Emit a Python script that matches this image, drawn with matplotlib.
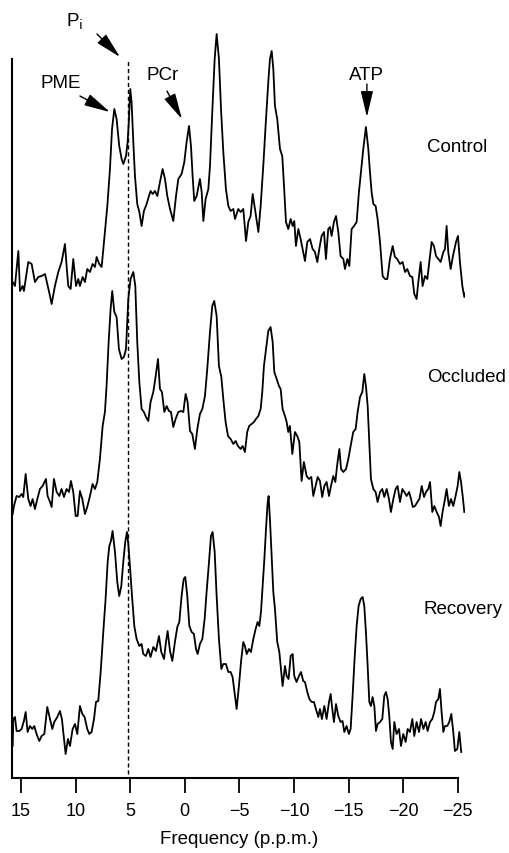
import matplotlib
matplotlib.use('Agg')
import matplotlib.pyplot as plt

plt.rcParams['font.family'] = ['Liberation Sans', 'DejaVu Sans']

# 31P spectra, intensity in arbitrary units (baseline ~0)
ctrl_ppm = [15.76, 15.55, 15.24, 15.09, 14.85, 14.73, 14.33, 14.02, 13.72, 13.41,
            13.11, 12.80, 12.65, 12.34, 12.19, 11.89, 11.58, 11.28, 10.97, 10.82,
            10.67, 10.45, 10.21, 9.96, 9.75, 9.60, 9.35, 9.14, 8.93, 8.68,
            8.44, 8.22, 8.07, 7.83, 7.61, 7.31, 7.09, 6.85, 6.66, 6.45,
            6.24, 6.00, 5.78, 5.63, 5.38, 5.23, 5.11, 4.99, 4.87, 4.71,
            4.56, 4.35, 4.16, 3.95, 3.74, 3.49, 3.28, 3.13, 2.94, 2.73,
            2.51, 2.27, 2.03, 1.81, 1.60, 1.35, 1.05, 0.80, 0.59, 0.29,
            0.04, -0.17, -0.39, -0.57, -0.72, -0.87, -1.09, -1.39, -1.55, -1.70,
            -1.91, -2.16, -2.31, -2.52, -2.74, -2.92, -3.13, -3.32, -3.53, -3.77,
            -3.99, -4.20, -4.45, -4.60, -4.90, -5.12, -5.36, -5.61, -5.82, -6.03,
            -6.22, -6.43, -6.74, -6.95, -7.19, -7.44, -7.65, -7.80, -7.96, -8.11,
            -8.26, -8.47, -8.72, -8.93, -9.09, -9.27, -9.48, -9.70, -9.88, -10.03,
            -10.18, -10.40, -10.61, -10.79, -11.01, -11.22, -11.47, -11.71, -11.92, -12.14,
            -12.32, -12.53, -12.75, -12.93, -13.14, -13.30, -13.45, -13.66, -13.85, -14.06,
            -14.27, -14.52, -14.67, -14.89, -15.07, -15.28, -15.50, -15.74, -15.95, -16.14,
            -16.35, -16.59, -16.81, -16.96, -17.11, -17.27, -17.48, -17.66, -17.88, -18.12,
            -18.33, -18.55, -18.79, -19.04, -19.25, -19.46, -19.71, -19.95, -20.17, -20.38,
            -20.62, -20.84, -21.02, -21.23, -21.39, -21.60, -21.78, -22.00, -22.21, -22.39,
            -22.61, -22.82, -23.01, -23.22, -23.43, -23.68, -23.83, -23.98, -24.13, -24.35,
            -24.56, -24.84, -25.02, -25.20, -25.42, -25.60, -25.76]
ctrl_int = [7, 3, 38, -2, 3, -2, 27, 25, 7, 12,
            13, 15, 8, -7, -15, 3, 17, 27, 45, 23,
            3, 0, 30, 3, 10, 3, 12, 7, 20, 17,
            25, 22, 32, 25, 22, 57, 83, 120, 160, 180,
            170, 143, 130, 125, 133, 147, 170, 200, 187, 147,
            113, 85, 77, 63, 78, 85, 93, 98, 95, 98,
            93, 107, 120, 110, 93, 80, 68, 93, 110, 115,
            127, 147, 163, 143, 113, 88, 93, 110, 97, 68,
            90, 100, 123, 177, 230, 255, 230, 180, 137, 100,
            83, 78, 80, 70, 80, 77, 80, 48, 67, 73,
            95, 80, 57, 83, 123, 170, 207, 230, 238, 220,
            183, 170, 140, 133, 103, 67, 60, 70, 63, 68,
            43, 60, 50, 40, 28, 47, 50, 40, 37, 27,
            40, 53, 57, 30, 60, 62, 53, 67, 73, 57,
            33, 30, 20, 30, 23, 60, 63, 67, 97, 117,
            140, 162, 140, 117, 97, 85, 83, 70, 47, 13,
            10, 10, 30, 43, 32, 30, 25, 27, 17, 20,
            13, 12, -5, -10, 7, 27, 3, 13, 10, 27,
            47, 43, 33, 30, 27, 37, 40, 63, 37, 20,
            33, 47, 53, 27, 3, -8, -2]

occ_ppm = [15.76, 15.64, 15.40, 15.15, 14.94, 14.79, 14.57, 14.33, 14.12, 13.93,
           13.72, 13.50, 13.26, 13.02, 12.71, 12.56, 12.34, 12.19, 11.98, 11.73,
           11.49, 11.28, 11.06, 10.82, 10.60, 10.42, 10.21, 9.99, 9.81, 9.60,
           9.38, 9.14, 8.93, 8.68, 8.44, 8.22, 8.01, 7.77, 7.52, 7.31,
           7.16, 6.97, 6.79, 6.64, 6.45, 6.24, 6.03, 5.78, 5.57, 5.38,
           5.17, 4.96, 4.71, 4.53, 4.35, 4.16, 3.95, 3.74, 3.55, 3.34,
           3.13, 2.88, 2.70, 2.45, 2.27, 2.09, 1.87, 1.66, 1.45, 1.26,
           1.05, 0.84, 0.59, 0.35, 0.13, -0.08, -0.26, -0.48, -0.69, -0.93,
           -1.15, -1.39, -1.61, -1.85, -2.06, -2.31, -2.52, -2.70, -2.92, -3.13,
           -3.35, -3.53, -3.74, -3.96, -4.20, -4.45, -4.66, -4.87,
           -5.12, -5.30, -5.51, -5.72, -5.90, -6.12, -6.34, -6.52, -6.74, -6.95, -7.10,
           -7.25, -7.44, -7.65, -7.86, -8.05, -8.20, -8.41, -8.63, -8.78, -8.96,
           -9.18, -9.33, -9.48, -9.63, -9.85, -10.09, -10.30, -10.49, -10.70, -10.91,
           -11.16, -11.37, -11.59, -11.77, -11.98, -12.17, -12.38, -12.59, -12.78, -12.99,
           -13.21, -13.39, -13.60, -13.79, -13.97, -14.16, -14.31, -14.52, -14.77, -14.98,
           -15.19, -15.43, -15.65, -15.83, -16.05, -16.26, -16.44, -16.59, -16.75, -16.90,
           -17.05, -17.27, -17.48, -17.66, -17.88, -18.09, -18.27, -18.49, -18.70, -18.88,
           -19.10, -19.31, -19.49, -19.71, -19.93, -20.11, -20.32, -20.54, -20.72, -20.88,
           -21.09, -21.30, -21.49, -21.70, -21.91, -22.09, -22.30, -22.46, -22.67, -22.85,
           -23.07, -23.28, -23.43, -23.61, -23.83, -23.98, -24.19, -24.38, -24.59, -24.80,
           -24.99, -25.14, -25.30, -25.45, -25.60]
occ_int = [-15, -7, 3, 2, 5, 2, 25, 0, -7, 0,
           -10, 0, 10, 13, 20, 3, -3, -8, 20, 7,
           3, 10, 2, 10, 7, 18, 7, -17, -17, 8,
           0, -15, -8, 3, 15, 10, 17, 40, 73, 87,
           113, 157, 190, 208, 187, 182, 150, 140, 142, 150,
           200, 220, 227, 213, 157, 117, 90, 87, 82, 78,
           97, 107, 120, 140, 110, 107, 87, 93, 88, 87,
           72, 80, 87, 88, 87, 105, 97, 68, 65, 50,
           70, 85, 90, 103, 130, 167, 193, 198, 183, 133,
           122, 100, 77, 63, 60, 55, 58, 53,
           50, 53, 47, 67, 73, 75, 77, 80, 83, 90, 107,
           133, 150, 168, 172, 157, 127, 120, 113, 110, 90,
           83, 77, 67, 73, 45, 67, 63, 57, 18, 37,
           23, 20, 22, 3, 13, 22, 18, 2, 13, 17,
           3, 13, 23, 17, 35, 50, 30, 27, 30, 40,
           53, 67, 70, 87, 102, 107, 125, 113, 93, 57,
           20, 10, 7, -3, 7, 10, 2, 10, 0, -13,
           0, 10, 13, -3, 10, 7, 3, 7, 0, -8,
           -7, -3, 0, 13, 2, 7, 10, 17, -13, -7,
           -13, -18, -27, -13, 0, 10, -7, 0, -7, 3,
           13, 27, 17, 3, -13]

rec_ppm = [15.76, 15.70, 15.55, 15.40, 15.15, 14.94, 14.73, 14.57, 14.39, 14.18,
           13.96, 13.78, 13.57, 13.32, 13.11, 12.86, 12.59, 12.34, 12.13, 11.95,
           11.67, 11.43, 11.25, 11.06, 10.91, 10.70, 10.51, 10.27, 10.05, 9.84,
           9.60, 9.38, 9.17, 8.93, 8.74, 8.53, 8.31, 8.13, 7.92, 7.70,
           7.46, 7.25, 7.06, 6.91, 6.76, 6.61, 6.39, 6.18, 6.00, 5.81,
           5.63, 5.45, 5.29, 5.17, 5.02, 4.83, 4.62, 4.41, 4.16, 3.95,
           3.80, 3.55, 3.34, 3.13, 2.88, 2.64, 2.36, 2.15, 1.90, 1.72,
           1.57, 1.35, 1.14, 0.90, 0.68, 0.50, 0.29, 0.10, -0.05, -0.23,
           -0.42, -0.63, -0.84, -1.03, -1.18, -1.39, -1.61, -1.82, -2.00, -2.22,
           -2.40, -2.55, -2.74, -2.92, -3.13, -3.35, -3.53, -3.77, -3.99, -4.20,
           -4.38, -4.60, -4.75, -4.96, -5.15, -5.36, -5.51, -5.67, -5.88, -6.06,
           -6.28, -6.49, -6.67, -6.83, -6.98, -7.13, -7.29, -7.44, -7.58, -7.68,
           -7.80, -7.96, -8.11, -8.26, -8.47, -8.66, -8.81, -8.96, -9.18, -9.33,
           -9.51, -9.70, -9.88, -10.03, -10.24, -10.46, -10.64, -10.85, -11.01, -11.22,
           -11.41, -11.62, -11.83, -12.01, -12.23, -12.38, -12.56, -12.78, -12.99, -13.21,
           -13.36, -13.51, -13.66, -13.85, -14.06, -14.27, -14.45, -14.61, -14.82, -15.03,
           -15.19, -15.37, -15.55, -15.74, -15.92, -16.11, -16.29, -16.44, -16.59, -16.75,
           -16.90, -17.05, -17.20, -17.36, -17.51, -17.66, -17.88, -18.09, -18.27, -18.42,
           -18.58, -18.73, -18.88, -19.04, -19.19, -19.40, -19.62, -19.80, -20.01, -20.23,
           -20.41, -20.62, -20.84, -21.02, -21.23, -21.45, -21.64, -21.85, -22.06, -22.24,
           -22.46, -22.67, -22.85, -23.01, -23.22, -23.37, -23.52, -23.68, -23.83, -24.04,
           -24.22, -24.41, -24.59, -24.74, -24.96, -25.14, -25.32]
rec_int = [-7, 20, 22, 8, 8, 10, 18, 27, 7, 13,
           10, 13, 5, -2, 3, 5, 32, 20, 10, 17,
           22, 28, 20, 0, -15, 0, -7, 10, 15, 5,
           33, 25, 22, 10, 5, 7, 20, 37, 38, 67,
           107, 140, 177, 193, 198, 208, 187, 157, 143, 153,
           177, 197, 207, 195, 173, 143, 113, 100, 93, 95,
           85, 83, 90, 82, 92, 88, 103, 87, 80, 97,
           108, 88, 78, 97, 112, 117, 143, 160, 162, 143,
           113, 107, 105, 90, 85, 95, 100, 120, 147, 177,
           203, 207, 187, 143, 100, 70, 75, 75, 67, 67,
           62, 43, 30, 53, 77, 97, 93, 85, 90, 87,
           100, 110, 117, 113, 127, 153, 180, 210, 235, 243,
           220, 183, 147, 130, 97, 87, 70, 53, 73, 63,
           60, 83, 85, 63, 57, 63, 67, 58, 57, 47,
           40, 37, 37, 30, 22, 30, 20, 33, 20, 37,
           45, 30, 17, 35, 23, 17, 18, 7, 13, 5,
           10, 43, 80, 113, 133, 140, 142, 133, 107, 73,
           37, 33, 42, 33, 8, 15, 17, 20, 43, 47,
           40, 23, -3, -10, 17, 5, 10, -7, 5, -3,
           10, 7, 20, 3, 17, 7, 20, 10, 17, 8,
           17, 20, 27, 37, 40, 50, 27, 7, 13, 13,
           17, 25, 7, -12, -10, 7, -13]

labels = ['Control', 'Occluded', 'Recovery']
offsets = [489, 279, 39]
xticks = [15, 10, 5, 0, -5, -10, -15, -20, -25]
pi_ppm = 5.2

fig = plt.figure(figsize=(5.09, 8.54), dpi=100)
ax = fig.add_axes([12 / 509, 75 / 854, 453.4 / 509, 779 / 854])

for ppm, inten, off in zip([ctrl_ppm, occ_ppm, rec_ppm], [ctrl_int, occ_int, rec_int], offsets):
    ax.plot(ppm, [v + off for v in inten], color='black', lw=1.3, solid_joinstyle='round')

ax.axvline(pi_ppm, ymin=4 / 779, ymax=719 / 779, color='black', lw=1.0, ls=(0, (3, 2)))

ax.set_xlim(15.82, -25.7)
ax.set_ylim(0, 779)
ax.spines['top'].set_visible(False)
ax.spines['right'].set_visible(False)
ax.spines['left'].set_bounds(0, 719)
ax.spines['bottom'].set_bounds(15.82, -25)
ax.spines['left'].set_linewidth(1.5)
ax.spines['bottom'].set_linewidth(1.5)
ax.set_yticks([])
ax.set_xticks(xticks)
ax.set_xticklabels([str(t).replace('-', '\u2212') for t in xticks])
ax.tick_params(axis='x', length=11, width=1.3, pad=6, labelsize=13, direction='out')
ax.set_xlabel('Frequency (p.p.m.)', fontsize=13.5, labelpad=8)

# sample names
ax.text(-22.18, 632, labels[0], fontsize=13.5, ha='left', va='center')
ax.text(-22.18, 402, labels[1], fontsize=13.5, ha='left', va='center')
ax.text(-21.9, 170, labels[2], fontsize=13.5, ha='left', va='center')

# peak annotations
aprops = dict(arrowstyle='-|>,head_length=1.6,head_width=0.38', color='black',
              lw=1.0, mutation_scale=10, shrinkA=0, shrinkB=0)
ax.annotate('', xy=(5.93, 721), xytext=(8.04, 744), arrowprops=aprops)
ax.text(10.05, 757, r'P$_\mathrm{i}$', fontsize=13.5, ha='center', va='center')
ax.annotate('', xy=(6.85, 666), xytext=(9.6, 682), arrowprops=aprops)
ax.text(11.34, 696, 'PME', fontsize=13.5, ha='center', va='center')
ax.annotate('', xy=(0.26, 659), xytext=(1.63, 687), arrowprops=aprops)
ax.text(2.0, 703, 'PCr', fontsize=13.5, ha='center', va='center')
ax.annotate('', xy=(-16.68, 661), xytext=(-16.68, 694), arrowprops=aprops)
ax.text(-16.68, 704, 'ATP', fontsize=13.5, ha='center', va='center')

fig.savefig('out.png', dpi=100)
